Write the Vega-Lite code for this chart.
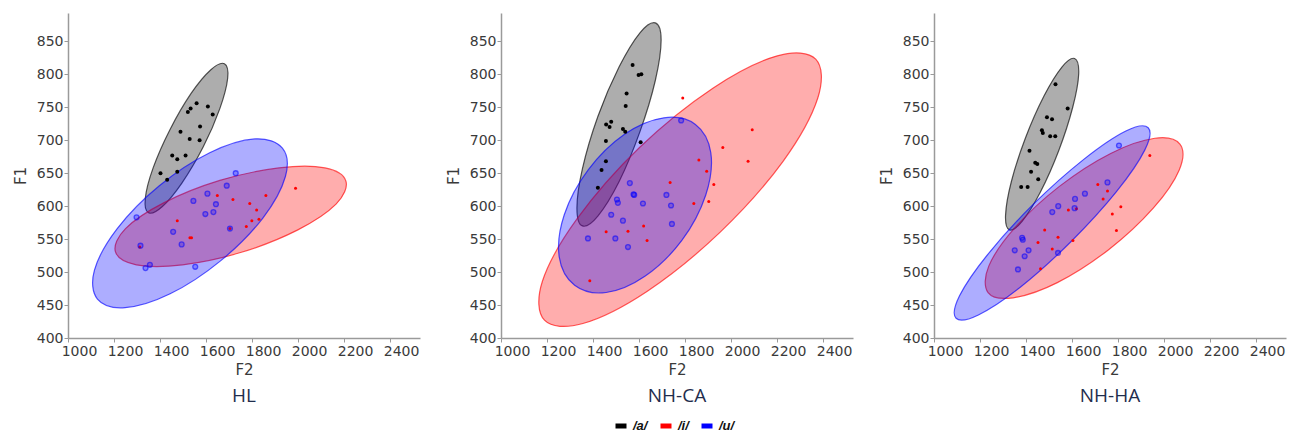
{
  "$schema": "https://vega.github.io/schema/vega-lite/v6.json",
  "background": "white",
  "padding": {"left": 13, "top": 13, "right": 5, "bottom": 5},
  "spacing": 26,
  "config": {
    "view": {"stroke": null},
    "axis": {
      "labelFont": "DejaVu Sans", "labelFontSize": 14, "labelColor": "#3a3a3a", "labelOverlap": false, "labelFlush": false,
      "titleFont": "DejaVu Sans", "titleFontSize": 15, "titleFontWeight": "normal", "titleColor": "#3a3a3a",
      "domainColor": "#9a9a9a", "domainWidth": 1.5, "tickColor": "#9a9a9a", "tickSize": 4, "grid": false, "format": "d"
    },
    "title": {"font": "Open Sans", "fontSize": 19, "fontWeight": "normal", "color": "#1f2d4d"},
    "legend": {"symbolStrokeWidth": 5}
  },
  "datasets": {
    "ell": [
      {"p":"HL","v":"/a/","t":0,"x":1680,"y":816},{"p":"HL","v":"/a/","t":1,"x":1694,"y":794},{"p":"HL","v":"/a/","t":2,"x":1660,"y":748},{"p":"HL","v":"/a/","t":3,"x":1588,"y":690},{"p":"HL","v":"/a/","t":4,"x":1495,"y":635},{"p":"HL","v":"/a/","t":5,"x":1409,"y":599},{"p":"HL","v":"/a/","t":6,"x":1350,"y":590},{"p":"HL","v":"/a/","t":7,"x":1336,"y":612},{"p":"HL","v":"/a/","t":8,"x":1370,"y":658},{"p":"HL","v":"/a/","t":9,"x":1443,"y":716},{"p":"HL","v":"/a/","t":10,"x":1535,"y":771},{"p":"HL","v":"/a/","t":11,"x":1621,"y":807},
      {"p":"HL","v":"/i/","t":0,"x":2208,"y":638},{"p":"HL","v":"/i/","t":1,"x":2165,"y":603},{"p":"HL","v":"/i/","t":2,"x":1999,"y":564},{"p":"HL","v":"/i/","t":3,"x":1754,"y":530},{"p":"HL","v":"/i/","t":4,"x":1498,"y":511},{"p":"HL","v":"/i/","t":5,"x":1297,"y":511},{"p":"HL","v":"/i/","t":6,"x":1206,"y":531},{"p":"HL","v":"/i/","t":7,"x":1250,"y":566},{"p":"HL","v":"/i/","t":8,"x":1416,"y":605},{"p":"HL","v":"/i/","t":9,"x":1660,"y":639},{"p":"HL","v":"/i/","t":10,"x":1917,"y":658},{"p":"HL","v":"/i/","t":11,"x":2117,"y":658},
      {"p":"HL","v":"/u/","t":0,"x":1932,"y":688},{"p":"HL","v":"/u/","t":1,"x":1945,"y":645},{"p":"HL","v":"/u/","t":2,"x":1847,"y":582},{"p":"HL","v":"/u/","t":3,"x":1663,"y":517},{"p":"HL","v":"/u/","t":4,"x":1444,"y":467},{"p":"HL","v":"/u/","t":5,"x":1248,"y":446},{"p":"HL","v":"/u/","t":6,"x":1128,"y":459},{"p":"HL","v":"/u/","t":7,"x":1115,"y":503},{"p":"HL","v":"/u/","t":8,"x":1214,"y":566},{"p":"HL","v":"/u/","t":9,"x":1397,"y":631},{"p":"HL","v":"/u/","t":10,"x":1616,"y":681},{"p":"HL","v":"/u/","t":11,"x":1812,"y":702},
      {"p":"NH-CA","v":"/a/","t":0,"x":1671,"y":878},{"p":"NH-CA","v":"/a/","t":1,"x":1696,"y":852},{"p":"NH-CA","v":"/a/","t":2,"x":1671,"y":791},{"p":"NH-CA","v":"/a/","t":3,"x":1604,"y":713},{"p":"NH-CA","v":"/a/","t":4,"x":1513,"y":637},{"p":"NH-CA","v":"/a/","t":5,"x":1421,"y":585},{"p":"NH-CA","v":"/a/","t":6,"x":1354,"y":570},{"p":"NH-CA","v":"/a/","t":7,"x":1330,"y":597},{"p":"NH-CA","v":"/a/","t":8,"x":1354,"y":657},{"p":"NH-CA","v":"/a/","t":9,"x":1421,"y":736},{"p":"NH-CA","v":"/a/","t":10,"x":1513,"y":811},{"p":"NH-CA","v":"/a/","t":11,"x":1604,"y":863},
      {"p":"NH-CA","v":"/i/","t":0,"x":2368,"y":823},{"p":"NH-CA","v":"/i/","t":1,"x":2377,"y":764},{"p":"NH-CA","v":"/i/","t":2,"x":2226,"y":668},{"p":"NH-CA","v":"/i/","t":3,"x":1954,"y":561},{"p":"NH-CA","v":"/i/","t":4,"x":1636,"y":471},{"p":"NH-CA","v":"/i/","t":5,"x":1356,"y":422},{"p":"NH-CA","v":"/i/","t":6,"x":1189,"y":427},{"p":"NH-CA","v":"/i/","t":7,"x":1180,"y":486},{"p":"NH-CA","v":"/i/","t":8,"x":1331,"y":581},{"p":"NH-CA","v":"/i/","t":9,"x":1602,"y":689},{"p":"NH-CA","v":"/i/","t":10,"x":1921,"y":779},{"p":"NH-CA","v":"/i/","t":11,"x":2201,"y":828},
      {"p":"NH-CA","v":"/u/","t":0,"x":1845,"y":724},{"p":"NH-CA","v":"/u/","t":1,"x":1912,"y":681},{"p":"NH-CA","v":"/u/","t":2,"x":1890,"y":617},{"p":"NH-CA","v":"/u/","t":3,"x":1786,"y":548},{"p":"NH-CA","v":"/u/","t":4,"x":1627,"y":494},{"p":"NH-CA","v":"/u/","t":5,"x":1457,"y":469},{"p":"NH-CA","v":"/u/","t":6,"x":1320,"y":480},{"p":"NH-CA","v":"/u/","t":7,"x":1253,"y":523},{"p":"NH-CA","v":"/u/","t":8,"x":1275,"y":587},{"p":"NH-CA","v":"/u/","t":9,"x":1379,"y":655},{"p":"NH-CA","v":"/u/","t":10,"x":1537,"y":709},{"p":"NH-CA","v":"/u/","t":11,"x":1708,"y":734},
      {"p":"NH-HA","v":"/a/","t":0,"x":1611,"y":824},{"p":"NH-HA","v":"/a/","t":1,"x":1629,"y":801},{"p":"NH-HA","v":"/a/","t":2,"x":1603,"y":750},{"p":"NH-HA","v":"/a/","t":3,"x":1542,"y":684},{"p":"NH-HA","v":"/a/","t":4,"x":1462,"y":621},{"p":"NH-HA","v":"/a/","t":5,"x":1383,"y":577},{"p":"NH-HA","v":"/a/","t":6,"x":1328,"y":564},{"p":"NH-HA","v":"/a/","t":7,"x":1311,"y":586},{"p":"NH-HA","v":"/a/","t":8,"x":1336,"y":637},{"p":"NH-HA","v":"/a/","t":9,"x":1397,"y":703},{"p":"NH-HA","v":"/a/","t":10,"x":1478,"y":767},{"p":"NH-HA","v":"/a/","t":11,"x":1556,"y":811},
      {"p":"NH-HA","v":"/i/","t":0,"x":2069,"y":694},{"p":"NH-HA","v":"/i/","t":1,"x":2066,"y":655},{"p":"NH-HA","v":"/i/","t":2,"x":1953,"y":597},{"p":"NH-HA","v":"/i/","t":3,"x":1759,"y":534},{"p":"NH-HA","v":"/i/","t":4,"x":1536,"y":484},{"p":"NH-HA","v":"/i/","t":5,"x":1344,"y":461},{"p":"NH-HA","v":"/i/","t":6,"x":1235,"y":469},{"p":"NH-HA","v":"/i/","t":7,"x":1238,"y":509},{"p":"NH-HA","v":"/i/","t":8,"x":1351,"y":567},{"p":"NH-HA","v":"/i/","t":9,"x":1545,"y":630},{"p":"NH-HA","v":"/i/","t":10,"x":1768,"y":680},{"p":"NH-HA","v":"/i/","t":11,"x":1960,"y":703},
      {"p":"NH-HA","v":"/u/","t":0,"x":1931,"y":719},{"p":"NH-HA","v":"/u/","t":1,"x":1916,"y":685},{"p":"NH-HA","v":"/u/","t":2,"x":1793,"y":622},{"p":"NH-HA","v":"/u/","t":3,"x":1595,"y":546},{"p":"NH-HA","v":"/u/","t":4,"x":1375,"y":477},{"p":"NH-HA","v":"/u/","t":5,"x":1193,"y":435},{"p":"NH-HA","v":"/u/","t":6,"x":1096,"y":430},{"p":"NH-HA","v":"/u/","t":7,"x":1111,"y":464},{"p":"NH-HA","v":"/u/","t":8,"x":1234,"y":527},{"p":"NH-HA","v":"/u/","t":9,"x":1432,"y":603},{"p":"NH-HA","v":"/u/","t":10,"x":1651,"y":671},{"p":"NH-HA","v":"/u/","t":11,"x":1834,"y":714}
    ],
    "pts": [
      {"p":"HL","v":"/a/","x":1402,"y":650},{"p":"HL","v":"/a/","x":1431,"y":640},{"p":"HL","v":"/a/","x":1475,"y":652},{"p":"HL","v":"/a/","x":1453,"y":677},{"p":"HL","v":"/a/","x":1475,"y":671},{"p":"HL","v":"/a/","x":1511,"y":677},{"p":"HL","v":"/a/","x":1489,"y":713},{"p":"HL","v":"/a/","x":1529,"y":702},{"p":"HL","v":"/a/","x":1572,"y":700},{"p":"HL","v":"/a/","x":1574,"y":721},{"p":"HL","v":"/a/","x":1521,"y":743},{"p":"HL","v":"/a/","x":1533,"y":748},{"p":"HL","v":"/a/","x":1559,"y":756},{"p":"HL","v":"/a/","x":1608,"y":751},{"p":"HL","v":"/a/","x":1629,"y":739},
      {"p":"HL","v":"/i/","x":1312,"y":538},{"p":"HL","v":"/i/","x":1475,"y":578},{"p":"HL","v":"/i/","x":1530,"y":552},{"p":"HL","v":"/i/","x":1537,"y":552},{"p":"HL","v":"/i/","x":1649,"y":616},{"p":"HL","v":"/i/","x":1717,"y":610},{"p":"HL","v":"/i/","x":1790,"y":604},{"p":"HL","v":"/i/","x":1820,"y":594},{"p":"HL","v":"/i/","x":1799,"y":578},{"p":"HL","v":"/i/","x":1775,"y":569},{"p":"HL","v":"/i/","x":1830,"y":580},{"p":"HL","v":"/i/","x":1860,"y":616},{"p":"HL","v":"/i/","x":1989,"y":627},{"p":"HL","v":"/i/","x":1704,"y":566},
      {"p":"HL","v":"/u/","x":1298,"y":583},{"p":"HL","v":"/u/","x":1315,"y":540},{"p":"HL","v":"/u/","x":1337,"y":506},{"p":"HL","v":"/u/","x":1356,"y":511},{"p":"HL","v":"/u/","x":1457,"y":561},{"p":"HL","v":"/u/","x":1494,"y":542},{"p":"HL","v":"/u/","x":1545,"y":608},{"p":"HL","v":"/u/","x":1553,"y":508},{"p":"HL","v":"/u/","x":1597,"y":588},{"p":"HL","v":"/u/","x":1606,"y":619},{"p":"HL","v":"/u/","x":1632,"y":591},{"p":"HL","v":"/u/","x":1643,"y":603},{"p":"HL","v":"/u/","x":1690,"y":631},{"p":"HL","v":"/u/","x":1704,"y":566},{"p":"HL","v":"/u/","x":1729,"y":650},
      {"p":"NH-CA","v":"/a/","x":1572,"y":814},{"p":"NH-CA","v":"/a/","x":1598,"y":799},{"p":"NH-CA","v":"/a/","x":1610,"y":800},{"p":"NH-CA","v":"/a/","x":1546,"y":771},{"p":"NH-CA","v":"/a/","x":1542,"y":752},{"p":"NH-CA","v":"/a/","x":1479,"y":728},{"p":"NH-CA","v":"/a/","x":1457,"y":724},{"p":"NH-CA","v":"/a/","x":1472,"y":720},{"p":"NH-CA","v":"/a/","x":1530,"y":717},{"p":"NH-CA","v":"/a/","x":1540,"y":713},{"p":"NH-CA","v":"/a/","x":1456,"y":699},{"p":"NH-CA","v":"/a/","x":1607,"y":697},{"p":"NH-CA","v":"/a/","x":1456,"y":668},{"p":"NH-CA","v":"/a/","x":1437,"y":655},{"p":"NH-CA","v":"/a/","x":1421,"y":628},
      {"p":"NH-CA","v":"/i/","x":1790,"y":764},{"p":"NH-CA","v":"/i/","x":2092,"y":716},{"p":"NH-CA","v":"/i/","x":1964,"y":689},{"p":"NH-CA","v":"/i/","x":1860,"y":670},{"p":"NH-CA","v":"/i/","x":2074,"y":668},{"p":"NH-CA","v":"/i/","x":1894,"y":653},{"p":"NH-CA","v":"/i/","x":1925,"y":633},{"p":"NH-CA","v":"/i/","x":1735,"y":636},{"p":"NH-CA","v":"/i/","x":1620,"y":570},{"p":"NH-CA","v":"/i/","x":1903,"y":607},{"p":"NH-CA","v":"/i/","x":1838,"y":604},{"p":"NH-CA","v":"/i/","x":1457,"y":561},{"p":"NH-CA","v":"/i/","x":1552,"y":562},{"p":"NH-CA","v":"/i/","x":1635,"y":548},{"p":"NH-CA","v":"/i/","x":1386,"y":487},
      {"p":"NH-CA","v":"/u/","x":1783,"y":730},{"p":"NH-CA","v":"/u/","x":1560,"y":635},{"p":"NH-CA","v":"/u/","x":1576,"y":618},{"p":"NH-CA","v":"/u/","x":1504,"y":610},{"p":"NH-CA","v":"/u/","x":1508,"y":605},{"p":"NH-CA","v":"/u/","x":1479,"y":587},{"p":"NH-CA","v":"/u/","x":1617,"y":604},{"p":"NH-CA","v":"/u/","x":1719,"y":617},{"p":"NH-CA","v":"/u/","x":1739,"y":601},{"p":"NH-CA","v":"/u/","x":1743,"y":573},{"p":"NH-CA","v":"/u/","x":1530,"y":578},{"p":"NH-CA","v":"/u/","x":1497,"y":551},{"p":"NH-CA","v":"/u/","x":1552,"y":538},{"p":"NH-CA","v":"/u/","x":1378,"y":551},{"p":"NH-CA","v":"/u/","x":1579,"y":617},
      {"p":"NH-HA","v":"/a/","x":1528,"y":785},{"p":"NH-HA","v":"/a/","x":1581,"y":748},{"p":"NH-HA","v":"/a/","x":1491,"y":735},{"p":"NH-HA","v":"/a/","x":1513,"y":732},{"p":"NH-HA","v":"/a/","x":1469,"y":715},{"p":"NH-HA","v":"/a/","x":1473,"y":711},{"p":"NH-HA","v":"/a/","x":1505,"y":706},{"p":"NH-HA","v":"/a/","x":1527,"y":706},{"p":"NH-HA","v":"/a/","x":1415,"y":684},{"p":"NH-HA","v":"/a/","x":1440,"y":666},{"p":"NH-HA","v":"/a/","x":1449,"y":664},{"p":"NH-HA","v":"/a/","x":1422,"y":652},{"p":"NH-HA","v":"/a/","x":1453,"y":641},{"p":"NH-HA","v":"/a/","x":1379,"y":629},{"p":"NH-HA","v":"/a/","x":1407,"y":629},
      {"p":"NH-HA","v":"/i/","x":1938,"y":677},{"p":"NH-HA","v":"/i/","x":1754,"y":623},{"p":"NH-HA","v":"/i/","x":1735,"y":611},{"p":"NH-HA","v":"/i/","x":1775,"y":588},{"p":"NH-HA","v":"/i/","x":1812,"y":599},{"p":"NH-HA","v":"/i/","x":1793,"y":563},{"p":"NH-HA","v":"/i/","x":1712,"y":633},{"p":"NH-HA","v":"/i/","x":1584,"y":594},{"p":"NH-HA","v":"/i/","x":1619,"y":596},{"p":"NH-HA","v":"/i/","x":1481,"y":564},{"p":"NH-HA","v":"/i/","x":1539,"y":553},{"p":"NH-HA","v":"/i/","x":1452,"y":545},{"p":"NH-HA","v":"/i/","x":1514,"y":535},{"p":"NH-HA","v":"/i/","x":1604,"y":548},{"p":"NH-HA","v":"/i/","x":1463,"y":505},
      {"p":"NH-HA","v":"/u/","x":1804,"y":692},{"p":"NH-HA","v":"/u/","x":1754,"y":636},{"p":"NH-HA","v":"/u/","x":1656,"y":619},{"p":"NH-HA","v":"/u/","x":1613,"y":611},{"p":"NH-HA","v":"/u/","x":1611,"y":597},{"p":"NH-HA","v":"/u/","x":1540,"y":600},{"p":"NH-HA","v":"/u/","x":1514,"y":591},{"p":"NH-HA","v":"/u/","x":1386,"y":549},{"p":"NH-HA","v":"/u/","x":1351,"y":533},{"p":"NH-HA","v":"/u/","x":1411,"y":533},{"p":"NH-HA","v":"/u/","x":1394,"y":524},{"p":"NH-HA","v":"/u/","x":1365,"y":504},{"p":"NH-HA","v":"/u/","x":1539,"y":529},{"p":"NH-HA","v":"/u/","x":1383,"y":552}
    ]
  },
  "hconcat": [
    {
      "width": 352, "height": 325,
      "title": {"text": "HL", "orient": "bottom", "offset": 10},
      "encoding": {
        "x": {"field": "x", "type": "quantitative", "scale": {"domain": [1000, 2530], "nice": false, "zero": false}, "axis": {"title": "F2", "values": [1000,1200,1400,1600,1800,2000,2200,2400], "labelOffset": 11, "labelPadding": 2, "titlePadding": 4}},
        "y": {"field": "y", "type": "quantitative", "scale": {"domain": [400, 893], "nice": false, "zero": false}, "axis": {"title": "F1", "values": [400,450,500,550,600,650,700,750,800,850], "labelPadding": 1, "titlePadding": 8}}
      },
      "layer": [
        {
          "data": {"name": "ell"},
          "transform": [{"filter": "datum.p === 'HL'"}],
          "mark": {"type": "line", "interpolate": "cardinal-closed"},
          "encoding": {
            "color": {"field": "v", "type": "nominal", "scale": {"domain": ["/a/", "/i/", "/u/"], "range": ["#000000", "#ff0000", "#0000ff"]},
              "legend": {"orient": "none", "legendX": 545, "legendY": 405, "direction": "horizontal", "title": null, "symbolType": "stroke", "symbolSize": 121, "symbolStrokeWidth": 5, "labelFont": "Liberation Sans", "labelFontStyle": "italic", "labelFontWeight": "bold", "labelFontSize": 13, "labelColor": "#111", "labelOffset": 4, "columnPadding": 2}},
            "fill": {"field": "v", "type": "nominal", "scale": {"domain": ["/a/", "/i/", "/u/"], "range": ["#000000", "#ff0000", "#0000ff"]}, "legend": null},
            "fillOpacity": {"value": 0.32},
            "strokeOpacity": {"value": 0.65},
            "strokeWidth": {"value": 1.2},
            "order": {"field": "t", "type": "quantitative"}
          }
        },
        {
          "data": {"name": "pts"},
          "transform": [{"filter": "datum.p === 'HL' && datum.v === '/a/'"}],
          "mark": {"type": "circle", "color": "#000000", "size": 16, "opacity": 1}
        },
        {
          "data": {"name": "pts"},
          "transform": [{"filter": "datum.p === 'HL' && datum.v === '/i/'"}],
          "mark": {"type": "circle", "color": "#ff0000", "size": 9, "opacity": 1}
        },
        {
          "data": {"name": "pts"},
          "transform": [{"filter": "datum.p === 'HL' && datum.v === '/u/'"}],
          "mark": {"type": "point", "shape": "circle", "filled": true, "fill": "#0000ff", "fillOpacity": 0.25, "stroke": "#0000ff", "strokeOpacity": 0.55, "strokeWidth": 1.3, "size": 24}
        }
      ]
    },
    {
      "width": 352, "height": 325,
      "title": {"text": "NH-CA", "orient": "bottom", "offset": 10},
      "encoding": {
        "x": {"field": "x", "type": "quantitative", "scale": {"domain": [1000, 2530], "nice": false, "zero": false}, "axis": {"title": "F2", "values": [1000,1200,1400,1600,1800,2000,2200,2400], "labelOffset": 11, "labelPadding": 2, "titlePadding": 4}},
        "y": {"field": "y", "type": "quantitative", "scale": {"domain": [400, 893], "nice": false, "zero": false}, "axis": {"title": "F1", "values": [400,450,500,550,600,650,700,750,800,850], "labelPadding": 1, "titlePadding": 8}}
      },
      "layer": [
        {
          "data": {"name": "ell"},
          "transform": [{"filter": "datum.p === 'NH-CA'"}],
          "mark": {"type": "line", "interpolate": "cardinal-closed"},
          "encoding": {
            "color": {"field": "v", "type": "nominal"},
            "fill": {"field": "v", "type": "nominal", "legend": null},
            "fillOpacity": {"value": 0.32},
            "strokeOpacity": {"value": 0.65},
            "strokeWidth": {"value": 1.2},
            "order": {"field": "t", "type": "quantitative"}
          }
        },
        {
          "data": {"name": "pts"},
          "transform": [{"filter": "datum.p === 'NH-CA' && datum.v === '/a/'"}],
          "mark": {"type": "circle", "color": "#000000", "size": 16, "opacity": 1}
        },
        {
          "data": {"name": "pts"},
          "transform": [{"filter": "datum.p === 'NH-CA' && datum.v === '/i/'"}],
          "mark": {"type": "circle", "color": "#ff0000", "size": 9, "opacity": 1}
        },
        {
          "data": {"name": "pts"},
          "transform": [{"filter": "datum.p === 'NH-CA' && datum.v === '/u/'"}],
          "mark": {"type": "point", "shape": "circle", "filled": true, "fill": "#0000ff", "fillOpacity": 0.25, "stroke": "#0000ff", "strokeOpacity": 0.55, "strokeWidth": 1.3, "size": 24}
        }
      ]
    },
    {
      "width": 352, "height": 325,
      "title": {"text": "NH-HA", "orient": "bottom", "offset": 10},
      "encoding": {
        "x": {"field": "x", "type": "quantitative", "scale": {"domain": [1000, 2530], "nice": false, "zero": false}, "axis": {"title": "F2", "values": [1000,1200,1400,1600,1800,2000,2200,2400], "labelOffset": 11, "labelPadding": 2, "titlePadding": 4}},
        "y": {"field": "y", "type": "quantitative", "scale": {"domain": [400, 893], "nice": false, "zero": false}, "axis": {"title": "F1", "values": [400,450,500,550,600,650,700,750,800,850], "labelPadding": 1, "titlePadding": 8}}
      },
      "layer": [
        {
          "data": {"name": "ell"},
          "transform": [{"filter": "datum.p === 'NH-HA'"}],
          "mark": {"type": "line", "interpolate": "cardinal-closed"},
          "encoding": {
            "color": {"field": "v", "type": "nominal"},
            "fill": {"field": "v", "type": "nominal", "legend": null},
            "fillOpacity": {"value": 0.32},
            "strokeOpacity": {"value": 0.65},
            "strokeWidth": {"value": 1.2},
            "order": {"field": "t", "type": "quantitative"}
          }
        },
        {
          "data": {"name": "pts"},
          "transform": [{"filter": "datum.p === 'NH-HA' && datum.v === '/a/'"}],
          "mark": {"type": "circle", "color": "#000000", "size": 16, "opacity": 1}
        },
        {
          "data": {"name": "pts"},
          "transform": [{"filter": "datum.p === 'NH-HA' && datum.v === '/i/'"}],
          "mark": {"type": "circle", "color": "#ff0000", "size": 9, "opacity": 1}
        },
        {
          "data": {"name": "pts"},
          "transform": [{"filter": "datum.p === 'NH-HA' && datum.v === '/u/'"}],
          "mark": {"type": "point", "shape": "circle", "filled": true, "fill": "#0000ff", "fillOpacity": 0.25, "stroke": "#0000ff", "strokeOpacity": 0.55, "strokeWidth": 1.3, "size": 24}
        }
      ]
    }
  ]
}
